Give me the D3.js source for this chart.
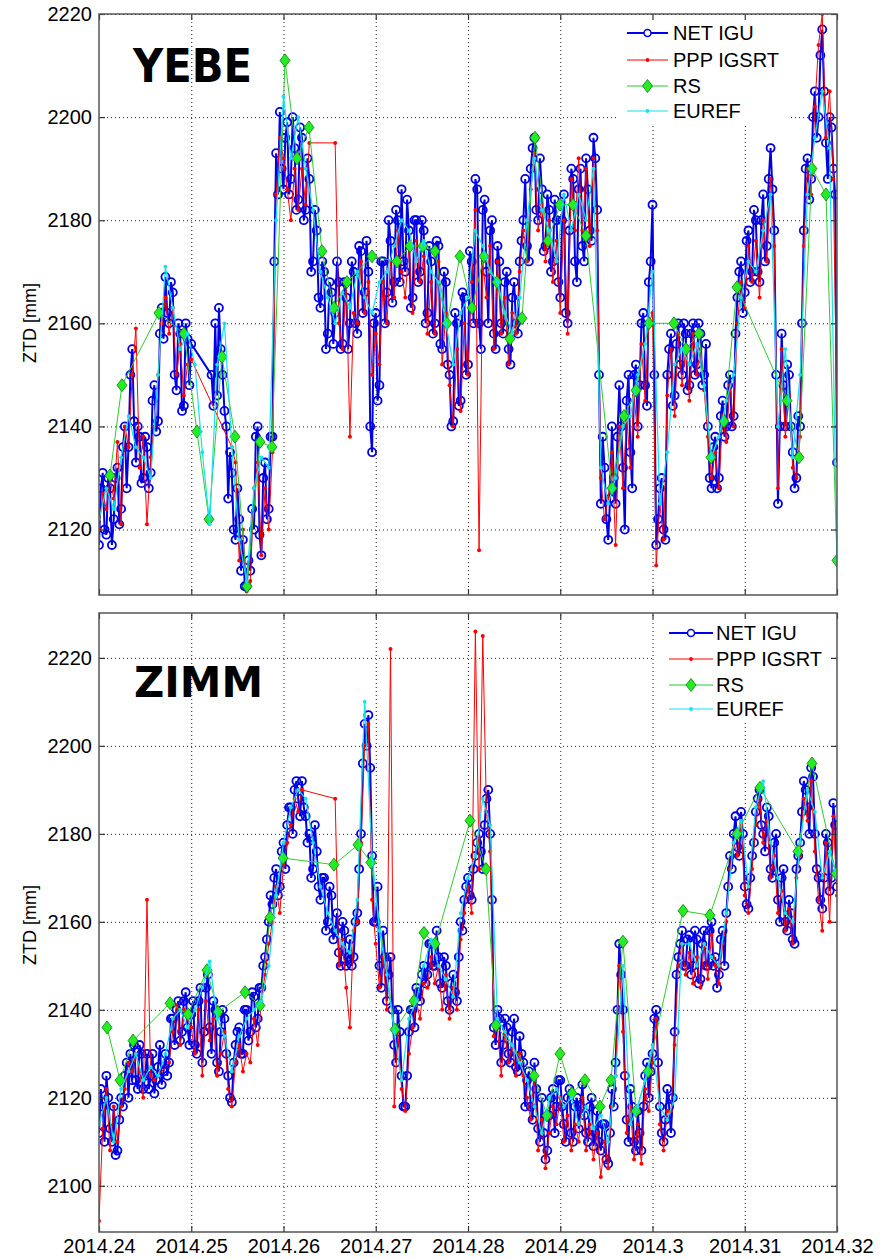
<!DOCTYPE html>
<html>
<head>
<meta charset="utf-8">
<script src="https://cdn.jsdelivr.net/npm/d3@7"></script>
<style>
  body { margin: 0; background: #fff; }
  svg { display: block; }
</style>
</head>
<body>
<svg id="chart" width="886" height="1259"></svg>
<script>
// ---- Time axis -------------------------------------------------------------
const xTicks = [2014.24, 2014.25, 2014.26, 2014.27, 2014.28, 2014.29, 2014.30, 2014.31, 2014.32];
const xTickLabels = ["2014.24", "2014.25", "2014.26", "2014.27", "2014.28", "2014.29", "2014.3", "2014.31", "2014.32"];

// Regularly sampled series start at xStart (decimal year).
const xStart = 2014.24;
const netStep = 0.0002;     // NET IGU
const pppStep = 0.0004;     // PPP IGSRT
const eurefStep = 0.0008;   // EUREF

// ---- YEBE (ZTD, mm) --------------------------------------------------------
const yebeTicks = [2120, 2140, 2160, 2180, 2200, 2220];

const yebeNet = [
  2117, 2128, 2131, 2120, 2119, 2130, 2128, 2117, 2122, 2130,
  2132, 2121, 2124, 2136, 2140, 2128, 2136, 2150, 2155, 2141,
  2133, 2140, 2138, 2129, 2130, 2138, 2136, 2128, 2131, 2145,
  2148, 2139, 2141, 2158, 2163, 2157, 2169, 2162, 2160, 2168,
  2166, 2150, 2147, 2160, 2158, 2143, 2144, 2160, 2157, 2148,
  2156, null, null, null, null, null, null, null, null, null,
  null, 2150, 2144, 2160, 2146, 2163, 2155, 2150, 2143, 2140,
  2126, 2135, 2131, 2120, 2118, 2128, 2122, 2112, 2118, 2109,
  2109, 2114, 2112, 2124, 2120, 2138, 2140, 2119, 2115, 2130,
  2133, 2122, 2124, 2138, 2138, 2172, 2193, 2185, 2201, 2190,
  2186, 2196, 2199, 2185, 2188, 2200, 2194, 2182, 2184, 2198,
  2196, 2180, 2182, 2192, 2188, 2170, 2172, 2182, 2178, 2165,
  2163, 2172, 2170, 2155, 2158, 2168, 2166, 2156, 2162, 2172,
  2168, 2155, 2156, 2168, 2165, 2155, 2160, 2172, 2170, 2160,
  2158, 2175, 2174, 2162, 2166, 2176, 2170, 2140, 2135, 2160,
  2162, 2145, 2148, 2172, 2172, 2160, 2166, 2180, 2176, 2164,
  2168, 2182, 2180, 2168, 2186, 2172, 2170, 2184, 2178, 2163,
  2165, 2180, 2180, 2168, 2170, 2180, 2178, 2160, 2162, 2175,
  2172, 2158, 2160, 2176, 2175, 2156, 2155, 2170, 2168, 2152,
  2150, 2140, 2141, 2162, 2160, 2144, 2145, 2166, 2165, 2150,
  2152, 2174, 2172, 2160, 2188, 2186, 2160, 2155, 2182, 2184,
  2170, 2160, 2178, 2180, 2158, 2155, 2175, 2172, 2160, 2158,
  2168, 2170, 2155, 2152, 2165, 2168, 2160, 2158, 2172, 2176,
  2180, 2188, 2175, 2172, 2190, 2194, 2196, 2182, 2180, 2192,
  2186, 2174, 2175, 2185, 2182, 2170, 2172, 2184, 2180, 2168,
  2165, 2180, 2185, 2162, 2160, 2178, 2190, 2188, 2172, 2168,
  2186, 2190, 2175, 2172, 2192, 2186, 2178, 2176, 2196, 2192,
  2182, 2150, 2125, 2138, 2132, 2122, 2118, 2126, 2140, 2130,
  2125, 2138, 2148, 2140, 2132, 2120, 2145, 2150, 2135, 2128,
  2150, 2152, 2140, 2148, 2160, 2162, 2148, 2144, 2168, 2172,
  2183, 2150, 2117, 2122, 2128, 2130, 2120, 2118, 2150, 2155,
  2158, 2144, 2146, 2156, 2160, 2152, 2150, 2160, 2158, 2147,
  2148, 2158, 2160, 2150, 2152, 2160, 2158, 2148, 2150, 2156,
  2140, 2130, 2128, 2136, 2138, 2128, 2130, 2142, 2145, 2138,
  2140, 2148, 2150, 2140, 2142, 2158, 2165, 2170, 2172, 2162,
  2166, 2176, 2178, 2168, 2170, 2182, 2180, 2170, 2168, 2180,
  2185, 2172, 2175, 2188, 2194, 2186, 2178, 2150, 2125, 2140,
  2158, 2148, 2140, 2152, 2150, 2140, 2135, 2128, 2130, 2142,
  2140, 2160, 2178, 2190, 2192, 2184, 2188, 2200, 2205, 2196,
  2200, 2212, 2217, 2205, 2195, 2188, 2200, 2198, 2190, 2185,
  2133
];

const yebePpp = [
  2120, 2127, 2124, 2130, 2126,  2137, 2121, 2140, 2136, 2150,
  2159, 2132, 2138, 2121, 2134,  2140, 2150, 2160, 2165, 2158,
  2163, 2150, 2156, 2146, 2152,  2153, null, null, null, null,
  null, null, null, null, null,  null, 2136, 2133, 2114, 2120,
  2108, 2110, 2128, 2133, 2115,  2128, 2120, 2135, 2185, 2196,
  2192, 2186, 2180, 2190, 2182,  2190, 2183, 2195, null, null,
  null, null, null, null, 2195,  2160, 2155, 2168, 2138, 2162,
  2160, 2172, 2162, 2168, 2150,  2158, 2152, 2168, 2160, 2172,
  2165, 2178, 2170, 2165, 2175,  2162, 2176, 2168, 2173, 2158,
  2168, 2158, 2172, 2152, 2162,  2148, 2140, 2155, 2143, 2160,
  2150, 2168, 2182, 2116, 2172,  2165, 2175, 2155, 2172, 2158,
  2165, 2152, 2162, 2158, 2170,  2178, 2172, 2186, 2193, 2178,
  2183, 2172, 2180, 2168, 2176,  2162, 2180, 2158, 2188, 2178,
  2192, 2178, 2190, 2175, 2192,  2178, 2130, 2122, 2126, 2135,
  2117, 2140, 2128, 2142, 2132,  2146, 2138, 2156, 2145, 2160,
  2162, 2113, 2125, 2118, 2146,  2155, 2142, 2158, 2148, 2155,
  2145, 2158, 2150, 2155, 2147,  2138, 2130, 2135, 2128, 2142,
  2137, 2148, 2140, 2160, 2168,  2163, 2175, 2168, 2176, 2165,
  2180, 2172, 2188, 2175, 2128,  2155, 2138, 2146, 2132, 2130,
  2138, 2175, 2190, 2185, 2202,  2214, 2220, 2196, 2205, 2188,
  2140
];

const yebeEuref = [
  2122, 2128, 2124, 2134, 2142,  2136, 2134, 2130, 2150, 2171,
  2163, 2155, 2158, 2152, 2135,  2121, 2152, 2160, 2136, 2118,
  2110, 2128, 2134, 2132, 2180,  2204, 2192, 2200, 2190, 2182,
  2170, 2165, 2160, 2166, 2163,  2170, 2165, 2162, 2168, 2170,
  2175, 2180, 2178, 2172, 2176,  2170, 2168, 2160, 2152, 2162,
  2165, 2178, 2175, 2170, 2168,  2162, 2158, 2165, 2180, 2192,
  2182, 2178, 2172, 2185, 2178,  2185, 2180, 2190, 2132, 2125,
  2130, 2140, 2142, 2150, 2156,  2170, 2125, 2135, 2152, 2155,
  2152, 2156, 2148, 2134, 2138,  2145, 2150, 2165, 2172, 2170,
  2178, 2185, 2140, 2155, 2134,  2150, 2185, 2196, 2205, 2194,
  2114
];

const yebeRsTime = [
  2014.24119, 2014.24249, 2014.24650, 2014.24921, 2014.25062, 2014.25192, 2014.25333,
  2014.25474, 2014.25604, 2014.25745, 2014.25875, 2014.26016, 2014.26146, 2014.26276,
  2014.26417, 2014.26547, 2014.26688, 2014.26959, 2014.27230, 2014.27371, 2014.27512,
  2014.27642, 2014.27772, 2014.27913, 2014.28043, 2014.28173, 2014.28314, 2014.28455,
  2014.28585, 2014.28726, 2014.28867, 2014.28997, 2014.29138, 2014.29279, 2014.29561,
  2014.29691, 2014.29821, 2014.29962, 2014.30233, 2014.30363, 2014.30504, 2014.30634,
  2014.30775, 2014.30916, 2014.31458, 2014.31588, 2014.31729, 2014.31881, 2014.32000
];
const yebeRsZtd = [
  2130.5, 2148, 2162, 2158, 2139, 2122, 2153.5,
  2138, 2109, 2137, 2136, 2211, 2192, 2198,
  2174, 2163, 2168, 2173, 2172, 2175, 2175,
  2174, 2160, 2173, 2163, 2173, 2168, 2157,
  2161, 2196, 2176, 2183, 2183, 2177, 2128,
  2142, 2147, 2160, 2160, 2155, 2158, 2134,
  2141, 2167, 2145, 2134, 2190, 2185, 2114
];

// ---- ZIMM (ZTD, mm) --------------------------------------------------------
const zimmTicks = [2100, 2120, 2140, 2160, 2180, 2200, 2220];

const zimmNet = [
  2112, 2122, 2118, 2110, 2125, 2120, 2113, 2110, 2118, 2107,
  2108, 2115, 2120, 2118, 2125, 2128, 2120, 2130, 2124, 2132,
  2124, 2122, 2132, 2130, 2122, 2125, 2130, 2122, 2125, 2130,
  2121, 2124, 2127, 2132, 2123, 2126, 2130, 2125, 2128, 2138,
  2138, 2132, 2140, 2142, 2133, 2135, 2142, 2144, 2136, 2132,
  2139, 2142, 2132, 2130, 2142, 2145, 2128, 2135, 2145, 2148,
  2136, 2130, 2142, 2140, 2128, 2126, 2135, 2140, 2138, 2130,
  2125, 2120, 2119, 2128, 2132, 2135, 2136, 2130, 2130, 2140,
  2140, 2133, 2135, 2144, 2143, 2136, 2138, 2145, 2145, 2150,
  2152, 2156, 2160, 2166, 2164, 2170, 2172, 2166, 2168, 2176,
  2178, 2172, 2182, 2186, 2186, 2180, 2190, 2192, 2188, 2184,
  2192, 2186, 2184, 2178, 2180, 2170, 2172, 2182, 2176, 2168,
  2165, 2170, 2170, 2158, 2160, 2168, 2166, 2156, 2158, 2162,
  2153, 2150, 2160, 2158, 2150, 2152, 2156, 2150, 2152, 2160,
  2162, 2172, 2180, 2196, 2205, 2200, 2207, 2195, 2175, 2160,
  2160, 2168, 2150, 2145, 2158, 2152, 2142, 2148, 2152, 2140,
  2132, 2128, 2140, 2135, 2125, 2118, 2118, 2125, 2135, 2140,
  2140, 2136, 2145, 2144, 2142, 2148, 2150, 2146, 2148, 2155,
  2155, 2150, 2150, 2158, 2152, 2146, 2145, 2152, 2150, 2142,
  2140, 2146, 2148, 2144, 2142, 2152, 2160, 2158, 2165, 2168,
  2170, 2166, 2165, 2172, 2175, 2178, 2180, 2176, 2172, 2182,
  2188, 2190, 2180, 2165, 2136, 2132, 2140, 2138, 2128, 2132,
  2138, 2136, 2130, 2128, 2135, 2138, 2127, 2126, 2134, 2130,
  2128, 2118, 2124, 2126, 2118, 2115, 2128, 2122, 2113, 2110,
  2120, 2112, 2106, 2108, 2116, 2120, 2122, 2112, 2118, 2124,
  2124, 2118, 2114, 2110, 2120, 2122, 2112, 2110, 2118, 2120,
  2113, 2118, 2123, 2116, 2112, 2110, 2118, 2120, 2109, 2112,
  2117, 2110, 2108, 2114, 2114, 2106, 2105, 2112, 2122, 2118,
  2128, 2140, 2155, 2148, 2140, 2125, 2115, 2110, 2122, 2118,
  2110, 2108, 2117, 2112, 2108, 2118, 2125, 2128, 2120, 2126,
  2130, 2138, 2140, 2128, 2118, 2112, 2110, 2115, 2122, 2118,
  2112, 2120, 2135, 2148, 2152, 2155, 2158, 2150, 2150, 2156,
  2157, 2148, 2150, 2158, 2156, 2146, 2147, 2155, 2158, 2150,
  2150, 2158, 2160, 2150, 2152, 2145, 2148, 2156, 2158, 2150,
  2162, 2168, 2175, 2172, 2180, 2184, 2177, 2175, 2185, 2180,
  2168, 2164, 2163, 2170, 2175, 2178, 2185, 2188, 2190, 2182,
  2180, 2176, 2186, 2184, 2172, 2170, 2178, 2180, 2165, 2160,
  2170, 2172, 2160, 2158, 2165, 2162, 2156, 2155, 2172, 2175,
  2178, 2185, 2192, 2190, 2186, 2180, 2195, 2193, 2180, 2172,
  2170, 2165, 2163, 2170, 2180, 2178, 2167, 2170, 2187, 2182,
  2168
];

const zimmPpp = [
  2092, 2113, 2122, 2108, 2118,  2110, 2118, 2122, 2128, 2126,
  2130, 2126, 2120, 2165, 2125,  2124, null, null, null, 2128,
  2135, 2141, 2132, 2140, 2138,  2136, 2130, 2140, 2125, 2142,
  2133, 2138, 2125, 2130, 2135,  2122, 2118, 2128, 2132, 2126,
  2130, 2128, 2138, 2132, 2142,  2148, 2155, 2160, 2168, 2162,
  2173, 2178, 2182, 2188, 2185,  2190, null, null, null, null,
  null, null, null, null, 2188,  2150, 2156, 2145, 2136, 2158,
  2160, 2178, 2200, 2205, 2165,  2155, 2145, 2152, 2140, 2222,
  2118, 2135, 2122, 2117, 2130,  2136, 2142, 2138, 2146, 2145,
  2152, 2146, 2150, 2140, 2148,  2138, 2145, 2140, 2156, 2162,
  2168, 2162, 2226, 2172, 2225,  2185, 2176, 2134, 2136, 2125,
  2135, 2128, 2132, 2125, 2130,  2125, 2120, 2115, 2125, 2108,
  2115, 2104, 2112, 2118, 2114,  2120, 2110, 2116, 2108, 2114,
  2110, 2120, 2108, 2114, 2106,  2112, 2102, 2110, 2104, 2118,
  2125, 2150, 2135, 2112, 2118,  2106, 2114, 2105, 2122, 2117,
  2128, 2138, 2114, 2108, 2117,  2117, 2132, 2150, 2155, 2148,
  2153, 2146, 2152, 2145, 2155,  2147, 2157, 2150, 2146, 2155,
  2160, 2172, 2178, 2175, 2182,  2166, 2162, 2172, 2182, 2188,
  2178, 2183, 2170, 2175, 2162,  2167, 2158, 2163, 2155, 2170,
  2175, 2188, 2183, 2192, 2176,  2165, 2158, 2178, 2160, 2184,
  2166
];

const zimmEuref = [
  2114, 2120, 2110, 2122, 2126,  2130, 2124, 2127, 2125, 2130,
  2138, 2140, 2136, 2140, 2145,  2151, 2138, 2134, 2126, 2134,
  2138, 2140, 2142, 2150, 2166,  2178, 2186, 2190, 2188, 2178,
  2168, 2162, 2158, 2155, 2153,  2165, 2210, 2175, 2158, 2148,
  2135, 2124, 2138, 2142, 2150,  2156, 2150, 2147, 2143, 2162,
  2170, 2175, 2188, 2182, 2138,  2135, 2132, 2128, 2124, 2118,
  2112, 2120, 2122, 2118, 2120,  2114, 2118, 2113, 2116, 2110,
  2125, 2150, 2114, 2118, 2124,  2132, 2118, 2115, 2120, 2155,
  2155, 2150, 2155, 2152, 2150,  2162, 2178, 2183, 2168, 2186,
  2192, 2178, 2170, 2162, 2160,  2178, 2190, 2185, 2170, 2176,
  2170
];

const zimmRsTime = [
  2014.24087, 2014.24228, 2014.24369, 2014.24770, 2014.24965, 2014.25171, 2014.25290,
  2014.25583, 2014.25745, 2014.25854, 2014.25995, 2014.26547, 2014.26808, 2014.26948,
  2014.27209, 2014.27415, 2014.27523, 2014.27642, 2014.28022, 2014.28195, 2014.28303,
  2014.28715, 2014.28856, 2014.28997, 2014.29127, 2014.29268, 2014.29431, 2014.29550,
  2014.29680, 2014.29821, 2014.29951, 2014.30331, 2014.30623, 2014.30916, 2014.31165,
  2014.31577, 2014.31729, 2014.31989
];
const zimmRsZtd = [
  2136, 2124, 2133, 2141.5, 2139, 2149, 2139.5,
  2144, 2141, 2161, 2174.5, 2173, 2177.5, 2173.5,
  2135.5, 2142, 2157.5, 2155, 2183, 2172, 2136.5,
  2125, 2116, 2130, 2121, 2124, 2118, 2124,
  2155.5, 2117, 2126, 2162.5, 2161.5, 2180, 2190.5,
  2176, 2196, 2171
];

// ---- Legend ----------------------------------------------------------------
const seriesNames = ["NET IGU", "PPP IGSRT", "RS", "EUREF"];

// ---- Drawing ---------------------------------------------------------------
const colors = {
  net: "#0000e6",
  ppp: "#ff0000",
  rsLine: "#2ecc2e",
  rsFill: "#22ee22",
  rsEdge: "#127a12",
  euref: "#12e2ee"
};
const fontFamily = '"Liberation Sans", Arial, Helvetica, sans-serif';

const svg = d3.select("#chart");
const plotLeft = 99, plotRight = 837;
const x = d3.scaleLinear().domain([2014.24, 2014.32]).range([plotLeft, plotRight]);

function regularPoints(values, step) {
  return values
    .map((v, i) => (v == null ? null : { t: xStart + i * step, v }))
    .filter(Boolean);
}

const diamond = "M0,-6.5L5,0L0,6.5L-5,0Z";

function drawPanel(p) {
  const y = d3.scaleLinear().domain(p.yDomain).range([p.bottom, p.top]);
  const width = plotRight - plotLeft;
  const height = p.bottom - p.top;
  const g = svg.append("g");

  const clipId = "clip-" + p.name;
  svg.append("defs").append("clipPath").attr("id", clipId)
    .append("rect").attr("x", plotLeft).attr("y", p.top)
    .attr("width", width).attr("height", height);

  // dotted grid
  const gx = g.append("g").attr("transform", `translate(0,${p.bottom})`)
    .call(d3.axisBottom(x).tickValues(xTicks.slice(1, -1)).tickSize(-height).tickFormat(""));
  const gy = g.append("g").attr("transform", `translate(${plotLeft},0)`)
    .call(d3.axisLeft(y).tickValues(p.yTicks).tickSize(-width).tickFormat(""));
  [gx, gy].forEach(a => {
    a.select(".domain").remove();
    a.selectAll("line").attr("stroke", "#222").attr("stroke-width", 1).attr("stroke-dasharray", "1,3");
  });

  const plot = g.append("g").attr("clip-path", `url(#${clipId})`);
  const line = d3.line().x(d => x(d.t)).y(d => y(d.v));

  // NET IGU
  const net = regularPoints(p.net, netStep);
  plot.append("path").datum(net).attr("d", line)
    .attr("fill", "none").attr("stroke", colors.net).attr("stroke-width", 2);
  plot.append("g").selectAll("circle").data(net).join("circle")
    .attr("cx", d => x(d.t)).attr("cy", d => y(d.v)).attr("r", 4)
    .attr("fill", "none").attr("stroke", colors.net).attr("stroke-width", 1.8);

  // PPP IGSRT
  const ppp = regularPoints(p.ppp, pppStep);
  plot.append("path").datum(ppp).attr("d", line)
    .attr("fill", "none").attr("stroke", colors.ppp).attr("stroke-width", 1);
  plot.append("g").selectAll("circle").data(ppp).join("circle")
    .attr("cx", d => x(d.t)).attr("cy", d => y(d.v)).attr("r", 2)
    .attr("fill", colors.ppp);

  // RS
  const rs = p.rsTime.map((t, i) => ({ t, v: p.rsZtd[i] }));
  plot.append("path").datum(rs).attr("d", line)
    .attr("fill", "none").attr("stroke", colors.rsLine).attr("stroke-width", 1);
  plot.append("g").selectAll("path").data(rs).join("path")
    .attr("d", diamond)
    .attr("transform", d => `translate(${x(d.t)},${y(d.v)})`)
    .attr("fill", colors.rsFill).attr("stroke", colors.rsEdge).attr("stroke-width", 0.8);

  // EUREF
  const eu = regularPoints(p.euref, eurefStep);
  plot.append("path").datum(eu).attr("d", line)
    .attr("fill", "none").attr("stroke", colors.euref).attr("stroke-width", 1.2);
  plot.append("g").selectAll("circle").data(eu).join("circle")
    .attr("cx", d => x(d.t)).attr("cy", d => y(d.v)).attr("r", 1.9)
    .attr("fill", colors.euref);

  // legend
  const L = p.legend;
  const lg = g.append("g");
  lg.append("rect").attr("x", L.x0).attr("y", L.y0)
    .attr("width", L.x1 - L.x0).attr("height", L.y1 - L.y0).attr("fill", "#fff");
  const mid = (L.lineX0 + L.lineX1) / 2;
  seriesNames.forEach((name, k) => {
    const yy = L.rows[k];
    const stroke = [colors.net, colors.ppp, colors.rsLine, colors.euref][k];
    lg.append("line").attr("x1", L.lineX0).attr("x2", L.lineX1).attr("y1", yy).attr("y2", yy)
      .attr("stroke", stroke).attr("stroke-width", k === 0 ? 2 : 1.2);
    if (k === 0) {
      lg.append("circle").attr("cx", mid).attr("cy", yy).attr("r", 3.5)
        .attr("fill", "#fff").attr("stroke", colors.net).attr("stroke-width", 1.5);
    } else if (k === 2) {
      lg.append("path").attr("d", diamond).attr("transform", `translate(${mid},${yy})`)
        .attr("fill", colors.rsFill).attr("stroke", colors.rsEdge).attr("stroke-width", 0.8);
    } else {
      lg.append("circle").attr("cx", mid).attr("cy", yy).attr("r", 1.9)
        .attr("fill", k === 1 ? colors.ppp : colors.euref);
    }
    lg.append("text").attr("x", L.textX).attr("y", yy + 7)
      .attr("font-family", fontFamily).attr("font-size", 20).attr("fill", "#000")
      .text(name);
  });

  // axes frame and inward ticks
  const tickStyle = a => {
    a.select(".domain").remove();
    a.selectAll("line").attr("stroke", "#333").attr("stroke-width", 1.2);
    a.selectAll("text").attr("font-family", fontFamily).attr("font-size", 20).attr("fill", "#000");
  };
  g.append("g").attr("transform", `translate(${plotLeft},0)`)
    .call(d3.axisLeft(y).tickValues(p.yTicks).tickSize(-6).tickPadding(7).tickFormat(d3.format("d")))
    .call(tickStyle);
  g.append("g").attr("transform", `translate(${plotRight},0)`)
    .call(d3.axisRight(y).tickValues(p.yTicks).tickSize(-6).tickFormat(""))
    .call(tickStyle);
  g.append("g").attr("transform", `translate(0,${p.top})`)
    .call(d3.axisTop(x).tickValues(xTicks).tickSize(-6).tickFormat(""))
    .call(tickStyle);
  g.append("g").attr("transform", `translate(0,${p.bottom})`)
    .call(d3.axisBottom(x).tickValues(xTicks).tickSize(-6).tickPadding(7)
      .tickFormat((d, i) => (p.xLabels ? xTickLabels[i] : "")))
    .call(tickStyle);
  g.append("rect").attr("x", plotLeft).attr("y", p.top).attr("width", width).attr("height", height)
    .attr("fill", "none").attr("stroke", "#555").attr("stroke-width", 1.5);

  // station name
  g.append("text").attr("x", p.title.x).attr("y", p.title.y)
    .attr("font-family", '"DejaVu Sans", Verdana, sans-serif').attr("font-weight", "bold")
    .attr("font-size", p.title.size).attr("textLength", p.title.len)
    .attr("lengthAdjust", "spacingAndGlyphs").attr("fill", "#000")
    .text(p.name);

  // y label
  g.append("text").attr("transform", `translate(36,${p.labelY}) rotate(-90)`)
    .attr("text-anchor", "middle").attr("font-family", fontFamily)
    .attr("font-size", 18).attr("fill", "#000").text("ZTD [mm]");
}

drawPanel({
  name: "YEBE",
  yDomain: [2107.3, 2220], top: 14, bottom: 595, yTicks: yebeTicks,
  net: yebeNet, ppp: yebePpp, euref: yebeEuref, rsTime: yebeRsTime, rsZtd: yebeRsZtd,
  legend: { x0: 618, x1: 788, y0: 15, y1: 124, lineX0: 627, lineX1: 668, textX: 673, rows: [33, 60, 86, 111] },
  title: { x: 133, y: 82, size: 46, len: 119 },
  labelY: 323, xLabels: false
});

drawPanel({
  name: "ZIMM",
  yDomain: [2089.5, 2230.2], top: 613, bottom: 1232, yTicks: zimmTicks,
  net: zimmNet, ppp: zimmPpp, euref: zimmEuref, rsTime: zimmRsTime, rsZtd: zimmRsZtd,
  legend: { x0: 655, x1: 828, y0: 614, y1: 722, lineX0: 669, lineX1: 713, textX: 716, rows: [633, 659, 685, 709] },
  title: { x: 134, y: 697, size: 42, len: 129 },
  labelY: 925, xLabels: true
});
</script>
</body>
</html>
